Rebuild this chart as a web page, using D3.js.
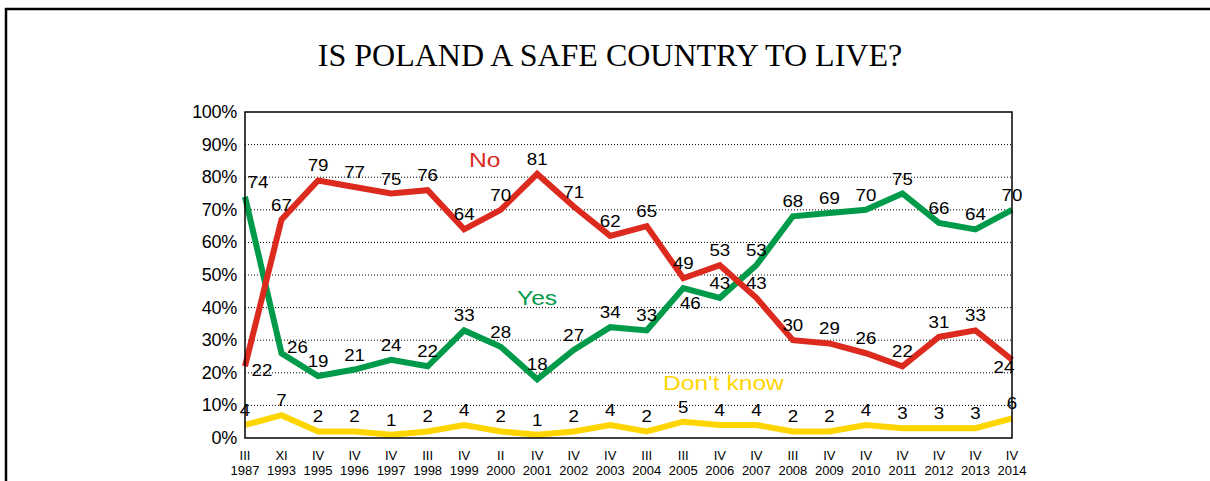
<!DOCTYPE html>
<html>
<head>
<meta charset="utf-8">
<script src="https://cdn.jsdelivr.net/npm/d3@7"></script>
<style>
  body { margin: 0; background: #fff; }
  text { font-family: Arial, "Liberation Sans", sans-serif; }
</style>
</head>
<body>
<div id="chart"></div>
<script>
// survey months and years
var months = ["III", "XI", "IV", "IV", "IV", "III", "IV", "II", "IV", "IV", "IV",
              "III", "III", "IV", "IV", "III", "IV", "IV", "IV", "IV", "IV", "IV"];
var years = ["1987", "1993", "1995", "1996", "1997", "1998", "1999", "2000", "2001", "2002", "2003",
             "2004", "2005", "2006", "2007", "2008", "2009", "2010", "2011", "2012", "2013", "2014"];

var yesValues = [74, 26, 19, 21, 24, 22, 33, 28, 18, 27, 34, 33, 46, 43, 53, 68, 69, 70, 75, 66, 64, 70];
var noValues = [22, 67, 79, 77, 75, 76, 64, 70, 81, 71, 62, 65, 49, 53, 43, 30, 29, 26, 22, 31, 33, 24];
var dkValues = [4, 7, 2, 2, 1, 2, 4, 2, 1, 2, 4, 2, 5, 4, 4, 2, 2, 4, 3, 3, 3, 6];

var yTicks = [0, 10, 20, 30, 40, 50, 60, 70, 80, 90, 100];

var width = 1210, height = 481;
var margin = {left: 245, right: 198, top: 112, bottom: 43};

var svg = d3.select("#chart").append("svg")
  .attr("width", width)
  .attr("height", height);

// outer frame
svg.append("rect")
  .attr("x", 6).attr("y", 9)
  .attr("width", width + 20).attr("height", height + 20)
  .attr("fill", "none")
  .attr("stroke", "#000")
  .attr("stroke-width", 2.5);

svg.append("text")
  .attr("x", 610).attr("y", 66)
  .attr("text-anchor", "middle")
  .style("font-family", "'Liberation Serif', 'Times New Roman', serif")
  .style("font-size", "32px")
  .text("IS POLAND A SAFE COUNTRY TO LIVE?");

var x = d3.scalePoint()
  .domain(d3.range(years.length))
  .range([margin.left, width - margin.right]);

var y = d3.scaleLinear()
  .domain([0, 100])
  .range([height - margin.bottom, margin.top]);

// dotted gridlines
svg.append("g")
  .selectAll("line")
  .data(yTicks.filter(function(d) { return d > 0 && d < 100; }))
  .enter().append("line")
  .attr("x1", margin.left).attr("x2", width - margin.right)
  .attr("y1", function(d) { return y(d); })
  .attr("y2", function(d) { return y(d); })
  .attr("stroke", "#000")
  .attr("stroke-width", 1)
  .attr("stroke-dasharray", "1,2");

// y axis labels
svg.append("g")
  .selectAll("text")
  .data(yTicks)
  .enter().append("text")
  .attr("x", margin.left - 8)
  .attr("y", function(d) { return y(d) + 6; })
  .attr("text-anchor", "end")
  .style("font-size", "18px")
  .style("letter-spacing", "-0.3px")
  .text(function(d) { return d + "%"; });

// x labels, two rows
var xl = svg.append("g").selectAll("g")
  .data(years)
  .enter().append("g")
  .attr("transform", function(d, i) { return "translate(" + x(i) + ",0)"; });
xl.append("text")
  .attr("y", 460)
  .attr("text-anchor", "middle")
  .style("font-size", "13px")
  .text(function(d, i) { return months[i]; });
xl.append("text")
  .attr("y", 475)
  .attr("text-anchor", "middle")
  .style("font-size", "13px")
  .text(function(d) { return d; });

var series = [
  {name: "No", values: noValues, color: "#DC2A1E", label: [469, 167]},
  {name: "Yes", values: yesValues, color: "#009B4A", label: [517, 305]},
  {name: "Don't know", values: dkValues, color: "#FFD500", label: [663, 390]}
];

// nudges for labels that Excel moved off the default "above" spot
var nudge = {
  "No-0": [17, 19], "No-21": [-8, 22],
  "Yes-0": [13, 0], "Yes-1": [16, 9], "Yes-12": [7, 30]
};

var line = d3.line()
  .x(function(d, i) { return x(i); })
  .y(function(d) { return y(d); });

// draw yellow first, then green, then red on top
[series[2], series[1], series[0]].forEach(function(s) {
  svg.append("path")
    .datum(s.values)
    .attr("fill", "none")
    .attr("stroke", s.color)
    .attr("stroke-width", 6)
    .attr("stroke-linejoin", "miter")
    .attr("d", line);
});

// plot border
svg.append("rect")
  .attr("x", margin.left).attr("y", margin.top)
  .attr("width", width - margin.left - margin.right)
  .attr("height", height - margin.top - margin.bottom)
  .attr("fill", "none")
  .attr("stroke", "#000")
  .attr("stroke-width", 1.5);

// the original text is a bit wider than plain Arial
series.forEach(function(s) {
  svg.append("g")
    .selectAll("text")
    .data(s.values)
    .enter().append("text")
    .attr("transform", function(d, i) {
      var n = nudge[s.name + "-" + i];
      var tx = x(i) + (n ? n[0] : 0);
      var ty = y(d) - 9 + (n ? n[1] : 0);
      return "translate(" + tx + "," + ty + ") scale(1.1,1)";
    })
    .attr("text-anchor", "middle")
    .style("font-size", "17px")
    .text(function(d) { return d; });

  svg.append("text")
    .attr("transform", "translate(" + s.label[0] + "," + s.label[1] + ") scale(1.2,1)")
    .attr("fill", s.color)
    .style("font-size", "20.5px")
    .text(s.name);
});
</script>
</body>
</html>
